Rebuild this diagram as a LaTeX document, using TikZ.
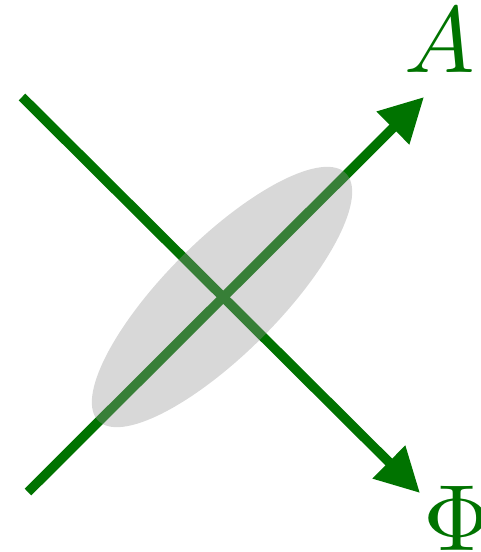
\documentclass[tikz,border=0pt]{standalone}
\usepackage{graphicx}
\usetikzlibrary{arrows.meta}
\definecolor{axgreen}{RGB}{0,115,0}
\definecolor{ellgray}{RGB}{150,150,150}
\newcommand{\biglbl}[1]{\scalebox{9.4}{#1}}
\tikzset{
  axis/.style={draw=axgreen, line width=9.5pt, -{Triangle[length=44pt,width=44pt]}},
  lbl/.style={text=axgreen, inner sep=0pt, anchor=base},
  blob/.style={fill=ellgray, fill opacity=0.37}
}
\begin{document}
\begin{tikzpicture}[x=1pt,y=-1pt]
\useasboundingbox (0,0) rectangle (481,552);
\coordinate (a0) at (28,492);
\coordinate (a1) at (424,97);
\coordinate (p0) at (22,97);
\coordinate (p1) at (420,493);
\coordinate (c) at (222,297);
\draw[axis] (a0) -- (a1);
\draw[axis] (p0) -- (p1);
\fill[blob, shift={(c)}, rotate=45] (0,0) ellipse [x radius=175pt, y radius=57pt];
\node[lbl] (A) at (440,72) {\biglbl{$A$}};
\node[lbl] (Phi) at (457,550) {\biglbl{$\Phi$}};
\end{tikzpicture}
\end{document}
